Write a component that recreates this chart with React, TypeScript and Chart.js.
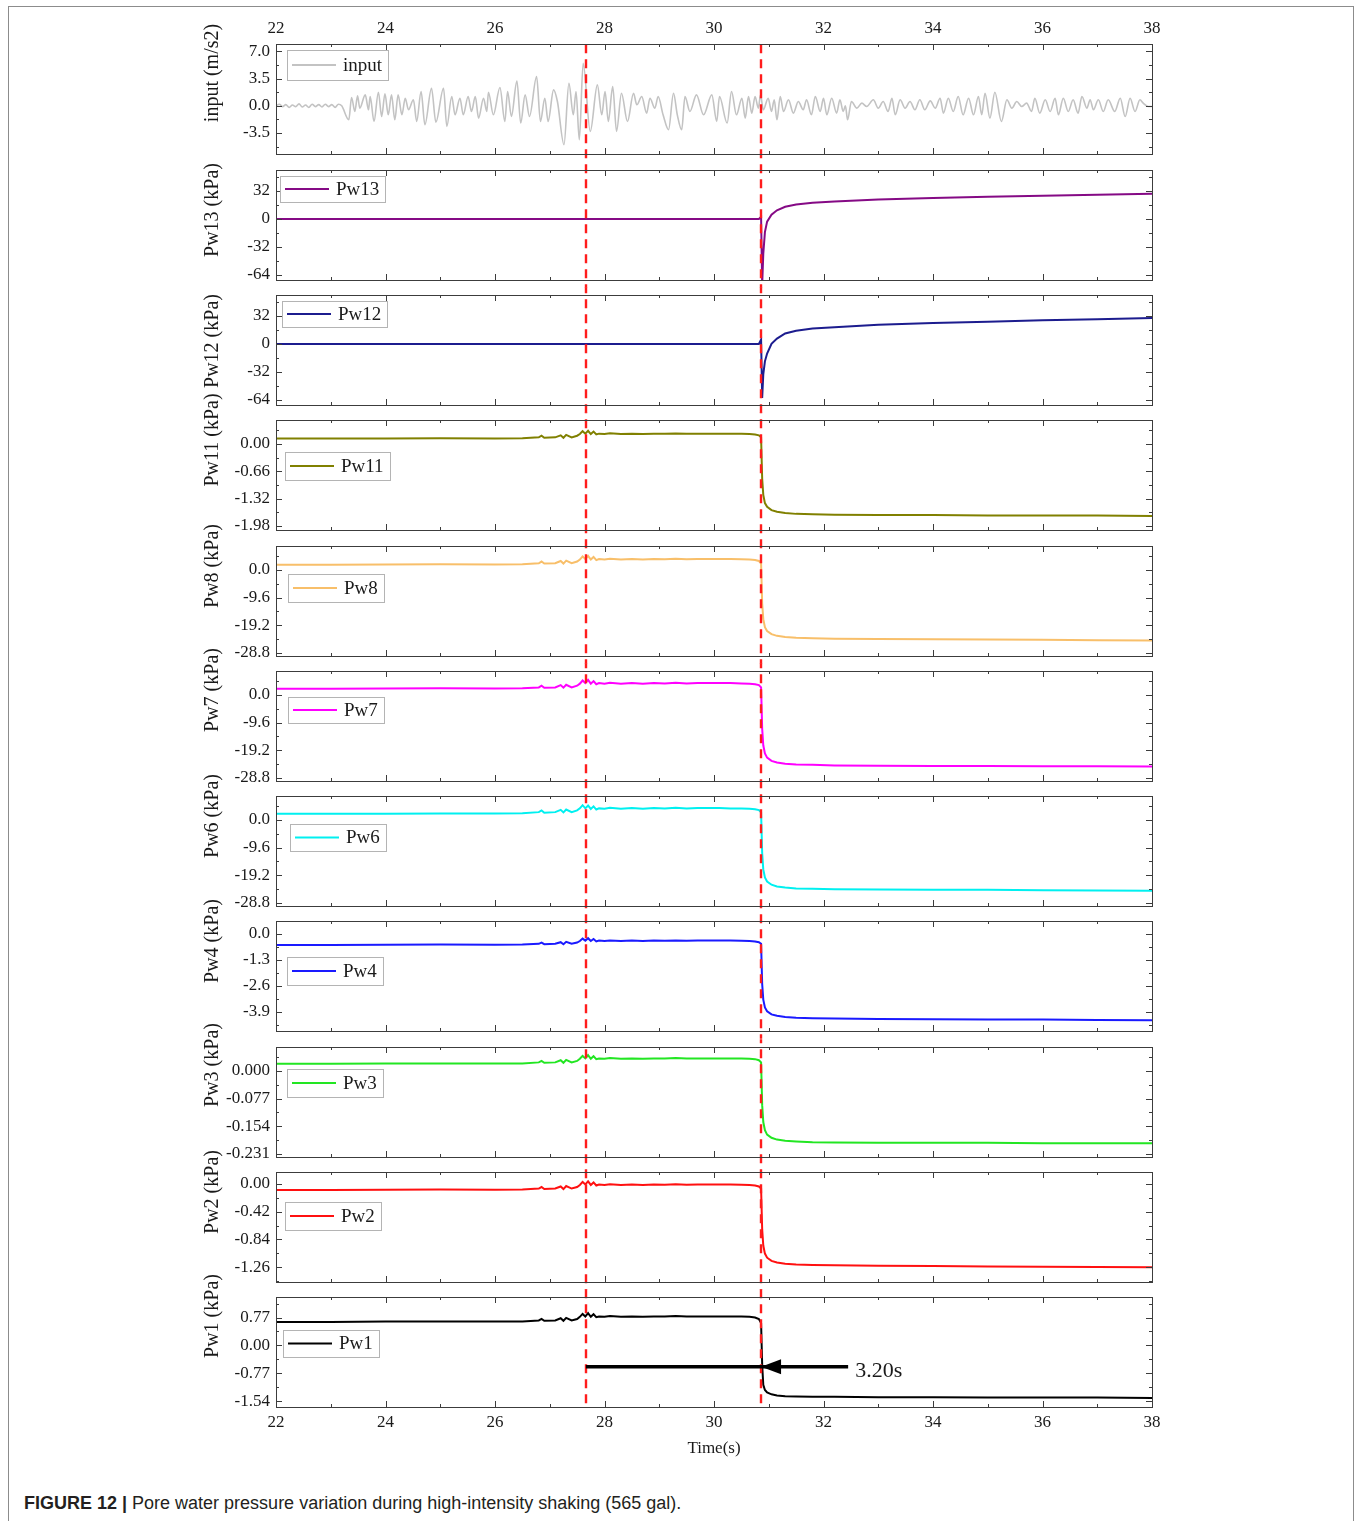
import React, { useEffect, useRef } from "react";
import { Chart, registerables } from "chart.js";

Chart.register(...registerables);

const SERIF = '"Liberation Serif", "Times New Roman", serif';

// ---- time axis -------------------------------------------------------------
const TIME_MIN = 22;
const TIME_MAX = 38;
const TIME_STEP = 2;

// marker times (s): peak of shaking and the sudden pore-pressure drop
const SHAKE_PEAK_T = 27.66;
const PRESSURE_DROP_T = 30.86;
// arrow in the Pw1 panel (kPa level of the arrow, tail time)
const ARROW_PW1_LEVEL = -0.59;
const ARROW_TAIL_T = 32.45;

// ---- input acceleration (m/s2) --------------------------------------------
const INPUT_T = [
  22.0, 22.06, 22.12, 22.18, 22.24, 22.3, 22.36, 22.42, 22.48, 22.54, 22.6, 22.66, 22.72, 22.78, 22.84, 22.9, 22.96,
  23.02, 23.08, 23.14, 23.2, 23.33, 23.38, 23.44, 23.49, 23.53, 23.63, 23.69, 23.72, 23.79, 23.87, 23.93, 23.99,
  24.05, 24.11, 24.17, 24.23, 24.3, 24.36, 24.42, 24.51, 24.57, 24.65, 24.72, 24.84, 24.92, 25.06, 25.12, 25.21,
  25.27, 25.36, 25.42, 25.51, 25.57, 25.64, 25.7, 25.79, 25.85, 25.88, 25.97, 26.09, 26.18, 26.23, 26.3, 26.4,
  26.47, 26.55, 26.63, 26.76, 26.83, 26.91, 26.97, 27.07, 27.14, 27.26, 27.35, 27.43, 27.48, 27.54, 27.61, 27.74,
  27.87, 27.95, 28.01, 28.07, 28.15, 28.22, 28.31, 28.42, 28.53, 28.59, 28.68, 28.77, 28.83, 28.92, 28.98, 29.07,
  29.17, 29.26, 29.33, 29.41, 29.47, 29.56, 29.68, 29.81, 29.96, 30.05, 30.1, 30.24, 30.32, 30.41, 30.51, 30.57,
  30.63, 30.69, 30.75, 30.81, 30.85, 30.9, 30.99, 31.05, 31.1, 31.15, 31.21, 31.27, 31.36, 31.45, 31.54, 31.63,
  31.69, 31.78, 31.85, 31.94, 32.0, 32.06, 32.15, 32.24, 32.3, 32.36, 32.4, 32.44, 32.51, 32.61, 32.7, 32.79,
  32.91, 33.0, 33.09, 33.18, 33.25, 33.31, 33.4, 33.49, 33.58, 33.67, 33.76, 33.85, 33.95, 34.04, 34.13, 34.19,
  34.28, 34.37, 34.46, 34.55, 34.65, 34.74, 34.83, 34.89, 34.95, 35.04, 35.13, 35.25, 35.35, 35.44, 35.53, 35.62,
  35.71, 35.8, 35.86, 35.95, 36.05, 36.14, 36.23, 36.29, 36.38, 36.47, 36.56, 36.65, 36.72, 36.81, 36.87, 36.93,
  37.02, 37.11, 37.2, 37.32, 37.42, 37.51, 37.6, 37.69, 37.78, 37.84, 37.93, 38.0,
];
const INPUT_A = [
  0.0, 0.2, -0.1, 0.15, -0.2, 0.1, -0.1, 0.25, -0.15, 0.1, -0.2, 0.2, -0.1, 0.15, -0.15, 0.2, -0.1,
  0.15, -0.2, 0.2, 0.0, -1.8, 1.07, -0.73, 1.28, -0.3, 1.41, -0.51, 1.19, -2.01, 1.75, -1.37, 1.54,
  -1.16, 1.41, -1.8, 1.41, -1.16, 0.98, -0.51, 0.77, -2.01, 1.84, -2.44, 2.26, -2.1, 2.26, -2.65, 1.19,
  -1.16, 0.98, -1.16, 1.19, -0.73, 1.19, -1.58, 0.98, -0.73, 1.75, -1.16, 2.35, -2.01, 1.84, -1.37, 3.2,
  -2.22, 1.41, -1.37, 3.76, -2.01, 0.98, -2.01, 2.05, 0.55, -5.0, 2.9, -1.16, 1.84, -4.36, 5.47, -3.29,
  2.69, -1.16, 1.84, -2.01, 2.48, -3.29, 1.62, -2.01, 1.62, 0.13, 1.19, -0.94, 0.98, -0.3, 1.19, -1.16,
  -3.08, 1.62, -1.16, -3.08, 1.19, -0.73, 1.41, -1.16, 1.41, -2.01, 1.19, -2.22, 1.84, -1.16, 0.98, -1.58,
  1.19, -0.94, 1.19, -0.3, 1.41, -0.51, 0.98, -0.73, 0.77, -1.8, 1.19, -0.73, 0.77, -0.94, 0.55, -0.51,
  0.77, -1.16, 1.19, -0.73, 0.98, -1.16, 0.98, -0.94, 0.77, -0.73, 0.0, -1.8, 0.55, -0.3, 0.34, -0.09,
  0.77, -0.3, 0.55, -0.73, 0.98, -1.16, 0.77, -0.3, 0.55, -0.51, 0.77, -0.51, 0.64, -0.3, 0.98, -0.94,
  0.98, -0.73, 1.19, -1.16, 0.98, -1.16, 1.19, -1.16, 1.62, -1.58, 1.75, -2.01, 0.77, -0.3, 0.55, -0.09,
  0.34, -0.73, 0.98, -0.94, 0.77, -0.73, 0.98, -1.16, 0.98, -0.73, 0.77, -0.94, 1.19, -0.3, 0.77, -0.51,
  0.77, -0.73, 0.77, -0.73, 0.98, -1.37, 0.98, -0.73, 0.77, 0.34, -0.09, -0.09,
];

// ---- pore water pressure (kPa) ---------------------------------------------
const PW_T = [
  22.0, 23.0, 24.0, 25.0, 26.0, 26.5, 26.8, 26.85, 26.9, 27.1, 27.2, 27.25, 27.3, 27.4, 27.5, 27.55, 27.6,
  27.65, 27.7, 27.75, 27.8, 27.85, 27.9, 28.0, 28.1, 28.3, 28.5, 28.7, 28.9, 29.1, 29.3, 29.5, 29.7, 29.9,
  30.1, 30.3, 30.5, 30.65, 30.75, 30.82, 30.86, 30.88, 30.9, 30.93, 30.97, 31.05, 31.15, 31.3, 31.5, 31.8,
  32.2, 33.0, 34.0, 35.0, 36.0, 37.0, 38.0,
];
const PW13 = [
  0, 0, 0, 0, 0, 0, 0, 0, 0, 0, 0, 0, 0, 0, 0, 0, 0,
  0, 0, 0, 0, 0, 0, 0, 0, 0, 0, 0, 0, 0, 0, 0, 0, 0,
  0, 0, 0, 0, 0, 0, 2.5, -75, -40, -15, -3, 5, 10, 14, 16.5, 18.5,
  20, 22.3, 24, 25.5, 26.5, 27.8, 29,
];
const PW12 = [
  0, 0, 0, 0, 0, 0, 0, 0, 0, 0, 0, 0, 0, 0, 0, 0, 0,
  0, 0, 0, 0, 0, 0, 0, 0, 0, 0, 0, 0, 0, 0, 0, 0, 0,
  0, 0, 0, 0, 0, 0, 5, -62, -35, -20, -11, 0, 6, 12, 15, 17.5,
  19, 22, 23.8, 25.5, 27, 28.3, 29.7,
];
const PW11 = [
  0.13, 0.13, 0.135, 0.14, 0.135, 0.14, 0.16, 0.2, 0.15, 0.16, 0.21, 0.15, 0.22, 0.16, 0.2, 0.24, 0.31,
  0.25, 0.32, 0.24, 0.3, 0.23, 0.25, 0.24, 0.26, 0.24, 0.25, 0.24, 0.25, 0.245, 0.255, 0.245, 0.25, 0.25,
  0.25, 0.25, 0.245, 0.24, 0.23, 0.21, 0.16, -0.84, -1.23, -1.43, -1.52, -1.6, -1.64, -1.67, -1.69, -1.7,
  -1.71, -1.72, -1.72, -1.73, -1.73, -1.73, -1.74,
];
const PW8 = [
  1.8, 1.8, 1.9, 2.0, 1.9, 2.0, 2.3, 2.9, 2.2, 2.3, 3.1, 2.2, 3.2, 2.3, 2.9, 3.6, 4.7,
  3.8, 4.9, 3.6, 4.5, 3.4, 3.8, 3.6, 3.9, 3.6, 3.8, 3.6, 3.8, 3.7, 3.9, 3.7, 3.8, 3.8,
  3.8, 3.8, 3.7, 3.6, 3.4, 3.1, 2.3, -11.6, -17.1, -19.9, -21.2, -22.3, -22.9, -23.3, -23.6, -23.7,
  -23.9, -24.0, -24.1, -24.2, -24.3, -24.4, -24.5,
];
const PW7 = [
  2.1, 2.1, 2.2, 2.3, 2.2, 2.3, 2.6, 3.2, 2.5, 2.6, 3.4, 2.5, 3.5, 2.6, 3.2, 3.9, 5.0,
  4.1, 5.2, 3.9, 4.8, 3.7, 4.1, 3.9, 4.2, 3.9, 4.1, 3.9, 4.1, 4.0, 4.2, 4.0, 4.1, 4.1,
  4.1, 4.1, 4.0, 3.9, 3.7, 3.4, 2.6, -11.8, -17.5, -20.3, -21.8, -22.9, -23.5, -23.9, -24.2, -24.3,
  -24.5, -24.6, -24.7, -24.7, -24.8, -24.8, -24.9,
];
const PW6 = [
  2.1, 2.1, 2.15, 2.25, 2.2, 2.3, 2.7, 3.3, 2.5, 2.7, 3.5, 2.6, 3.6, 2.7, 3.3, 4.0, 5.1,
  4.0, 5.0, 3.8, 4.7, 3.6, 4.0, 3.9, 4.2, 3.9, 4.1, 3.9, 4.1, 4.0, 4.2, 4.0, 4.1, 4.1,
  4.1, 4.0, 4.0, 3.9, 3.7, 3.4, 2.6, -11.6, -17.2, -20.0, -21.4, -22.5, -23.1, -23.5, -23.8, -23.9,
  -24.1, -24.2, -24.3, -24.3, -24.4, -24.5, -24.6,
];
const PW4 = [
  -0.55, -0.55, -0.54, -0.53, -0.54, -0.53, -0.49, -0.43, -0.51, -0.49, -0.41, -0.51, -0.39, -0.49, -0.43, -0.35, -0.23,
  -0.33, -0.21, -0.35, -0.25, -0.37, -0.33, -0.35, -0.32, -0.35, -0.33, -0.35, -0.33, -0.34, -0.32, -0.34, -0.33, -0.33,
  -0.33, -0.33, -0.34, -0.35, -0.37, -0.41, -0.49, -2.5, -3.28, -3.67, -3.86, -4.02, -4.09, -4.15, -4.19, -4.21,
  -4.23, -4.25, -4.26, -4.27, -4.28, -4.3, -4.31,
];
const PW3 = [
  0.02, 0.02, 0.021, 0.021, 0.021, 0.021, 0.024, 0.028, 0.023, 0.024, 0.03, 0.023, 0.031, 0.024, 0.028, 0.034, 0.042,
  0.035, 0.044, 0.034, 0.041, 0.033, 0.035, 0.034, 0.036, 0.034, 0.035, 0.034, 0.035, 0.035, 0.036, 0.035, 0.035, 0.035,
  0.035, 0.035, 0.035, 0.034, 0.033, 0.03, 0.024, -0.095, -0.142, -0.165, -0.177, -0.186, -0.191, -0.194, -0.196, -0.198,
  -0.199, -0.2, -0.2, -0.2, -0.201, -0.201, -0.201,
];
const PW2 = [
  -0.092, -0.092, -0.088, -0.084, -0.088, -0.084, -0.069, -0.046, -0.077, -0.069, -0.038, -0.077, -0.03, -0.069, -0.046, -0.015, 0.031,
  -0.007, 0.039, -0.015, 0.024, -0.023, -0.007, -0.015, -0.004, -0.015, -0.007, -0.015, -0.007, -0.011, -0.004, -0.011, -0.007, -0.007,
  -0.007, -0.007, -0.011, -0.015, -0.023, -0.038, -0.069, -0.689, -0.934, -1.056, -1.118, -1.167, -1.191, -1.209, -1.222, -1.228,
  -1.234, -1.24, -1.245, -1.25, -1.255, -1.26, -1.265,
];
const PW1 = [
  0.65, 0.65, 0.66, 0.66, 0.66, 0.66, 0.69, 0.73, 0.68, 0.69, 0.75, 0.68, 0.76, 0.69, 0.73, 0.79, 0.87,
  0.8, 0.89, 0.79, 0.86, 0.78, 0.8, 0.79, 0.81, 0.79, 0.8, 0.79, 0.8, 0.8, 0.81, 0.8, 0.8, 0.8,
  0.8, 0.8, 0.8, 0.79, 0.77, 0.73, 0.62, -0.54, -1.09, -1.23, -1.3, -1.35, -1.38, -1.4, -1.41, -1.415,
  -1.42, -1.43, -1.43, -1.44, -1.44, -1.44, -1.45,
];

// ---- y tick labels ---------------------------------------------------------
const INPUT_TICKS = [-3.5, 0, 3.5, 7.0];
const PW13_TICKS = [-64, -32, 0, 32];
const PW12_TICKS = [-64, -32, 0, 32];
const PW11_TICKS = [-1.98, -1.32, -0.66, 0];
const PW8_TICKS = [-28.8, -19.2, -9.6, 0];
const PW7_TICKS = [-28.8, -19.2, -9.6, 0];
const PW6_TICKS = [-28.8, -19.2, -9.6, 0];
const PW4_TICKS = [-3.9, -2.6, -1.3, 0];
const PW3_TICKS = [-0.231, -0.154, -0.077, 0];
const PW2_TICKS = [-1.26, -0.84, -0.42, 0];
const PW1_TICKS = [-1.54, -0.77, 0, 0.77];

type Panel = {
  label: string;
  title: string;
  t: number[];
  v: number[];
  color: string;
  width: number;
  min: number;
  max: number;
  ticks: number[];
  dec: number;
  smooth?: boolean;
  legend: { x: number; y: number; h: number };
  titleDy: number;
};

const PANELS: Panel[] = [
  { label: "input", title: "input (m/s2)", t: INPUT_T, v: INPUT_A, color: "#c3c3c3", width: 1.6, min: -6.2, max: 7.95, ticks: INPUT_TICKS, dec: 1, smooth: true, legend: { x: 11, y: 6, h: 30 }, titleDy: 29 },
  { label: "Pw13", title: "Pw13 (kPa)", t: PW_T, v: PW13, color: "#850a85", width: 2, min: -69.7, max: 56, ticks: PW13_TICKS, dec: 0, legend: { x: 4, y: 6, h: 26 }, titleDy: 40 },
  { label: "Pw12", title: "Pw12 (kPa)", t: PW_T, v: PW12, color: "#1c1c8e", width: 2, min: -70, max: 56, ticks: PW12_TICKS, dec: 0, legend: { x: 6, y: 6, h: 26 }, titleDy: 46 },
  { label: "Pw11", title: "Pw11 (kPa)", t: PW_T, v: PW11, color: "#808000", width: 2, min: -2.08, max: 0.58, ticks: PW11_TICKS, dec: 2, legend: { x: 9, y: 32, h: 28 }, titleDy: 20 },
  { label: "Pw8", title: "Pw8 (kPa)", t: PW_T, v: PW8, color: "#f8bf6a", width: 2, min: -29.9, max: 8.3, ticks: PW8_TICKS, dec: 1, legend: { x: 12, y: 28, h: 28 }, titleDy: 20 },
  { label: "Pw7", title: "Pw7 (kPa)", t: PW_T, v: PW7, color: "#ff00ff", width: 2, min: -29.9, max: 8.3, ticks: PW7_TICKS, dec: 1, legend: { x: 12, y: 26, h: 26 }, titleDy: 19 },
  { label: "Pw6", title: "Pw6 (kPa)", t: PW_T, v: PW6, color: "#00f0f0", width: 2, min: -29.9, max: 8.3, ticks: PW6_TICKS, dec: 1, legend: { x: 14, y: 28, h: 27 }, titleDy: 20 },
  { label: "Pw4", title: "Pw4 (kPa)", t: PW_T, v: PW4, color: "#1a1aff", width: 2, min: -4.85, max: 0.65, ticks: PW4_TICKS, dec: 1, legend: { x: 11, y: 36, h: 28 }, titleDy: 20 },
  { label: "Pw3", title: "Pw3 (kPa)", t: PW_T, v: PW3, color: "#22e622", width: 2, min: -0.2394, max: 0.0668, ticks: PW3_TICKS, dec: 3, legend: { x: 11, y: 22, h: 28 }, titleDy: 18 },
  { label: "Pw2", title: "Pw2 (kPa)", t: PW_T, v: PW2, color: "#ff1010", width: 2, min: -1.487, max: 0.182, ticks: PW2_TICKS, dec: 2, legend: { x: 9, y: 30, h: 28 }, titleDy: 20 },
  { label: "Pw1", title: "Pw1 (kPa)", t: PW_T, v: PW1, color: "#000000", width: 2, min: -1.7, max: 1.337, ticks: PW1_TICKS, dec: 2, legend: { x: 7, y: 33, h: 27 }, titleDy: 19 },
];

// ---- layout ----------------------------------------------------------------
const PAGE_W = 1356;
const FIRST_PANEL_TOP = 44.3;
const PANEL_STEP = 125.3;
const PANEL_H = 110;
const HALF_GAP = (PANEL_STEP - PANEL_H) / 2;
const PLOT_LEFT = 276;
const PLOT_RIGHT = 1152;
const Y_AXIS_W = 80;
const X_AXIS_H = 30;
const OVERLAP = 50;
const LAST_CANVAS_BOTTOM = 1470;
const MARKER_RED = "#ff1c1c";
const INK = "#1a1a1a";

function geometry(index: number, count: number) {
  const panelTop = Math.round(FIRST_PANEL_TOP + index * PANEL_STEP);
  const panelBottom = panelTop + PANEL_H;
  const first = index === 0;
  const last = index === count - 1;
  const canvasTop = first ? 0 : panelTop - OVERLAP;
  const canvasBottom = last ? LAST_CANVAS_BOTTOM : panelBottom + OVERLAP;
  return {
    canvasTop,
    height: canvasBottom - canvasTop,
    padTop: panelTop - canvasTop - (first ? X_AXIS_H : 0),
    padBottom: canvasBottom - panelBottom - (last ? X_AXIS_H : 0),
  };
}

function fmt(v: number, dec: number) {
  const s = v.toFixed(dec);
  return /^-0(\.0*)?$/.test(s) ? s.slice(1) : s;
}

function decorPlugin(panel: Panel, index: number, count: number, canvasTop: number) {
  const first = index === 0;
  const last = index === count - 1;
  return {
    id: "panelDecor",
    afterDatasetsDraw(chart: any) {
      const { ctx, chartArea: a } = chart;
      const xs = chart.scales.x;
      const ys = chart.scales.y;
      ctx.save();

      // dashed event markers, continuous through the gaps between panels
      const y0 = first ? a.top : a.top - HALF_GAP;
      const y1 = last ? a.bottom : a.bottom + HALF_GAP;
      ctx.strokeStyle = MARKER_RED;
      ctx.lineWidth = 2.4;
      ctx.setLineDash([9, 6]);
      ctx.lineDashOffset = canvasTop + y0 - FIRST_PANEL_TOP;
      for (const t of [SHAKE_PEAK_T, PRESSURE_DROP_T]) {
        const x = Math.round(xs.getPixelForValue(t));
        ctx.beginPath();
        ctx.moveTo(x, y0);
        ctx.lineTo(x, y1);
        ctx.stroke();
      }
      ctx.setLineDash([]);
      ctx.lineDashOffset = 0;

      // panel frame
      ctx.strokeStyle = "#3c3c3c";
      ctx.lineWidth = 1;
      ctx.strokeRect(Math.round(a.left) + 0.5, Math.round(a.top) + 0.5, Math.round(a.right - a.left), Math.round(a.bottom - a.top));

      // inward ticks on all four sides
      ctx.beginPath();
      for (let t = TIME_MIN; t <= TIME_MAX + 1e-9; t += 1) {
        const x = Math.round(xs.getPixelForValue(t)) + 0.5;
        const len = (t - TIME_MIN) % TIME_STEP === 0 ? 6 : 3;
        ctx.moveTo(x, a.top);
        ctx.lineTo(x, a.top + len);
        ctx.moveTo(x, a.bottom);
        ctx.lineTo(x, a.bottom - len);
      }
      const step = panel.ticks[1] - panel.ticks[0];
      for (let k = -12; k <= 12; k++) {
        const v = panel.ticks[0] + (k * step) / 2;
        if (v < panel.min || v > panel.max) continue;
        const y = Math.round(ys.getPixelForValue(v)) + 0.5;
        const len = Math.abs(k % 2) === 0 ? 6 : 3;
        ctx.moveTo(a.left, y);
        ctx.lineTo(a.left + len, y);
        ctx.moveTo(a.right, y);
        ctx.lineTo(a.right - len, y);
      }
      ctx.stroke();

      // y-axis title
      ctx.save();
      ctx.translate(213, a.top + panel.titleDy);
      ctx.rotate(-Math.PI / 2);
      ctx.font = `20px ${SERIF}`;
      ctx.fillStyle = INK;
      ctx.textAlign = "center";
      ctx.textBaseline = "middle";
      ctx.fillText(panel.title, 0, 0);
      ctx.restore();

      // legend box
      const lg = panel.legend;
      const bx = Math.round(a.left + lg.x);
      const by = Math.round(a.top + lg.y);
      ctx.font = `19px ${SERIF}`;
      const tw = ctx.measureText(panel.label).width;
      const w = Math.round(5 + 44 + 7 + tw + 6);
      ctx.fillStyle = "#ffffff";
      ctx.fillRect(bx, by, w, lg.h);
      ctx.strokeStyle = "#b4b4b4";
      ctx.lineWidth = 1;
      ctx.strokeRect(bx + 0.5, by + 0.5, w, lg.h);
      ctx.strokeStyle = panel.color;
      ctx.lineWidth = 2;
      ctx.beginPath();
      ctx.moveTo(bx + 5, by + lg.h / 2);
      ctx.lineTo(bx + 49, by + lg.h / 2);
      ctx.stroke();
      ctx.fillStyle = INK;
      ctx.textAlign = "left";
      ctx.textBaseline = "middle";
      ctx.fillText(panel.label, bx + 56, by + lg.h / 2 + 1);

      if (last) {
        // duration arrow between the two markers
        const ay = ys.getPixelForValue(ARROW_PW1_LEVEL);
        const xStart = xs.getPixelForValue(SHAKE_PEAK_T);
        const xTip = xs.getPixelForValue(PRESSURE_DROP_T);
        const xTail = xs.getPixelForValue(ARROW_TAIL_T);
        ctx.strokeStyle = "#000";
        ctx.fillStyle = "#000";
        ctx.lineWidth = 3.5;
        ctx.beginPath();
        ctx.moveTo(xStart, ay);
        ctx.lineTo(xTail, ay);
        ctx.stroke();
        ctx.beginPath();
        ctx.moveTo(xTip, ay);
        ctx.lineTo(xTip + 20, ay - 7.5);
        ctx.lineTo(xTip + 20, ay + 7.5);
        ctx.closePath();
        ctx.fill();
        const dur = PRESSURE_DROP_T - SHAKE_PEAK_T;
        ctx.font = `22px ${SERIF}`;
        ctx.fillStyle = INK;
        ctx.textAlign = "left";
        ctx.textBaseline = "middle";
        ctx.fillText(`${dur.toFixed(2)}s`, xTail + 7, ay + 4);

        // x-axis title
        ctx.font = `17px ${SERIF}`;
        ctx.textAlign = "center";
        ctx.fillText("Time(s)", (a.left + a.right) / 2, a.bottom + 42);
      }
      ctx.restore();
    },
  };
}

function PanelChart({ panel, index, count }: { panel: Panel; index: number; count: number }) {
  const ref = useRef<HTMLCanvasElement | null>(null);
  const g = geometry(index, count);
  const first = index === 0;
  const last = index === count - 1;
  const showX = first || last;

  useEffect(() => {
    if (!ref.current) return;
    const chart = new Chart(ref.current, {
      type: "line",
      data: {
        datasets: [
          {
            label: panel.label,
            data: panel.t.map((t, i) => ({ x: t, y: panel.v[i] })),
            borderColor: panel.color,
            borderWidth: panel.width,
            pointRadius: 0,
            fill: false,
            tension: 0,
            cubicInterpolationMode: panel.smooth ? "monotone" : "default",
          },
        ],
      },
      options: {
        animation: false,
        responsive: false,
        events: [],
        layout: {
          padding: { left: PLOT_LEFT - Y_AXIS_W, right: PAGE_W - PLOT_RIGHT, top: g.padTop, bottom: g.padBottom },
        },
        plugins: { legend: { display: false }, tooltip: { enabled: false } },
        scales: {
          x: {
            type: "linear",
            min: TIME_MIN,
            max: TIME_MAX,
            display: showX,
            position: first ? "top" : "bottom",
            grid: { display: false, drawTicks: false },
            border: { display: false },
            ticks: {
              stepSize: TIME_STEP,
              padding: 5,
              color: INK,
              font: { family: SERIF, size: 17 },
              maxRotation: 0,
            },
            afterFit: (s: any) => {
              s.height = showX ? X_AXIS_H : 0;
            },
          },
          y: {
            type: "linear",
            min: panel.min,
            max: panel.max,
            grid: { display: false, drawTicks: false },
            border: { display: false },
            afterBuildTicks: (s: any) => {
              s.ticks = panel.ticks.map((v) => ({ value: v }));
            },
            afterFit: (s: any) => {
              s.width = Y_AXIS_W;
            },
            ticks: {
              autoSkip: false,
              padding: 6,
              color: INK,
              font: { family: SERIF, size: 17 },
              callback: (v: any) => fmt(Number(v), panel.dec),
            },
          },
        },
      },
      plugins: [decorPlugin(panel, index, count, g.canvasTop)],
    } as any);
    return () => chart.destroy();
  }, []);

  return (
    <canvas
      ref={ref}
      width={PAGE_W}
      height={g.height}
      style={{ position: "absolute", left: 0, top: g.canvasTop, width: PAGE_W, height: g.height }}
    />
  );
}

export default function App() {
  return (
    <div style={{ position: "absolute", left: 0, top: 0, width: PAGE_W, height: 1521, background: "#fff", overflow: "hidden" }}>
      <div
        style={{
          position: "absolute",
          left: 8,
          top: 6,
          width: 1346,
          height: 1560,
          border: "1px solid #8c8c8c",
          boxSizing: "border-box",
        }}
      />
      {PANELS.map((p, i) => (
        <PanelChart key={p.label} panel={p} index={i} count={PANELS.length} />
      ))}
      <div
        style={{
          position: "absolute",
          left: 24,
          top: 1492,
          fontFamily: '"Liberation Sans", Arial, sans-serif',
          fontSize: 18,
          color: "#231f20",
          whiteSpace: "nowrap",
          lineHeight: "22px",
        }}
      >
        <b>FIGURE 12 |</b> Pore water pressure variation during high-intensity shaking (565 gal).
      </div>
    </div>
  );
}
